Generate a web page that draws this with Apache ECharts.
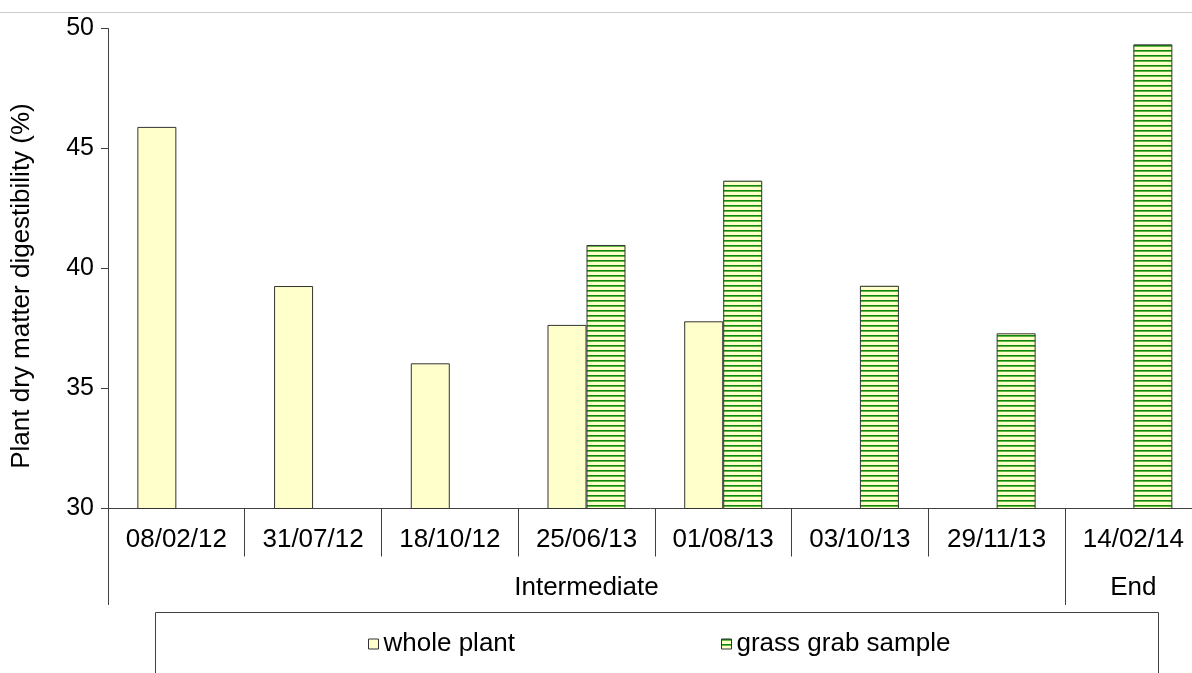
<!DOCTYPE html>
<html><head><meta charset="utf-8">
<script src="https://cdn.jsdelivr.net/npm/echarts@6/dist/echarts.min.js"></script>
<style>html,body{margin:0;padding:0;background:#fff}#c{width:1192px;height:673px}</style>
</head><body><div id="c"></div>
<script>
const categories = ['08/02/12','31/07/12','18/10/12','25/06/13','01/08/13','03/10/13','29/11/13','14/02/14'];
const wholePlant = [45.9, 39.27, 36.05, 37.65, 37.8, null, null, null];
const grassGrab = [null, null, null, 40.98, 43.66, 39.28, 37.3, 49.34];
const groupNames = ['Intermediate', 'End'];
const groupStart = [0, 7];
const groupEnd = [6, 7];
const seriesNames = ['whole plant', 'grass grab sample'];
const yName = 'Plant dry matter digestibility (%)';

const FONT = '"Liberation Sans", Arial, sans-serif';
const AX = '#404040';

const pc = document.createElement('canvas'); pc.width = 4; pc.height = 5;
const g = pc.getContext('2d');
g.fillStyle = '#ffffcc'; g.fillRect(0, 0, 4, 5);
g.fillStyle = '#0f870f'; g.fillRect(0, 0, 4, 1);
g.fillStyle = '#63b845'; g.fillRect(0, 1, 4, 1);
const patternFill = {image: pc, repeat: 'repeat'};

const chart = echarts.init(document.getElementById('c'));
chart.setOption({
  animation: false,
  grid: {left: 108, width: 1093.7, top: 28.5, bottom: 164.5, containLabel: false, outerBoundsMode: 'none'},
  xAxis: {
    type: 'category', data: categories,
    axisLine: {lineStyle: {color: AX}},
    axisTick: {show: true, interval: 0, length: 48, lineStyle: {color: AX}},
    axisLabel: {interval: 0, margin: 18, fontSize: 26, color: '#000', fontFamily: FONT}
  },
  yAxis: {
    type: 'value', min: 30, max: 50, interval: 5,
    axisLine: {show: true, lineStyle: {color: AX}},
    axisTick: {show: true, length: 7, lineStyle: {color: AX}},
    splitLine: {show: false},
    axisLabel: {fontSize: 25, color: '#000', margin: 14, fontFamily: FONT}
  },
  legend: [
    {data: [seriesNames[0]], left: 368, top: 631, padding: 0, icon: 'rect', itemWidth: 10, itemHeight: 10, itemGap: 0,
     itemStyle: {borderColor: '#333', borderWidth: 1},
     textStyle: {fontSize: 26, color: '#000', fontFamily: FONT}},
    {data: [seriesNames[1]], left: 721, top: 631, padding: 0, icon: 'rect', itemWidth: 10, itemHeight: 10, itemGap: 0,
     itemStyle: {borderColor: '#333', borderWidth: 1},
     textStyle: {fontSize: 26, color: '#000', fontFamily: FONT}}
  ],
  series: [
    {name: seriesNames[0], type: 'bar', data: wholePlant, barWidth: 39, barGap: '0%',
     itemStyle: {color: '#ffffcc', borderColor: '#333', borderWidth: 1}},
    {name: seriesNames[1], type: 'bar', data: grassGrab, barWidth: 39, barGap: '0%',
     itemStyle: {color: patternFill, borderColor: '#333', borderWidth: 1}}
  ]
});

const c0 = chart.convertToPixel({xAxisIndex: 0}, 0);
const c1 = chart.convertToPixel({xAxisIndex: 0}, 1);
const bw = c1 - c0;
const yBase = chart.convertToPixel({yAxisIndex: 0}, 30);
const graphics = [];
graphics.push({type: 'line', shape: {x1: 0, y1: 12.5, x2: 1192, y2: 12.5}, style: {stroke: '#cccccc', lineWidth: 1}});
for (let i = 0; i < groupNames.length; i++) {
  const left = chart.convertToPixel({xAxisIndex: 0}, groupStart[i]) - bw / 2;
  const right = chart.convertToPixel({xAxisIndex: 0}, groupEnd[i]) + bw / 2;
  graphics.push({type: 'line', shape: {x1: Math.round(left) + 0.5, y1: yBase, x2: Math.round(left) + 0.5, y2: 605}, style: {stroke: AX, lineWidth: 1}});
  graphics.push({type: 'text', x: (left + right) / 2, y: 588,
    style: {text: groupNames[i], fontSize: 26, fill: '#000', fontFamily: FONT, align: 'center', verticalAlign: 'middle'}});
}
graphics.push({type: 'rect', shape: {x: 155.5, y: 612.5, width: 1003, height: 80}, style: {fill: 'none', stroke: AX, lineWidth: 1}});
graphics.push({type: 'text', x: 22, y: 286, rotation: Math.PI / 2,
  style: {text: yName, fontSize: 26, fill: '#000', fontFamily: FONT, align: 'center', verticalAlign: 'middle'}});
chart.setOption({graphic: graphics});
</script>
</body></html>
